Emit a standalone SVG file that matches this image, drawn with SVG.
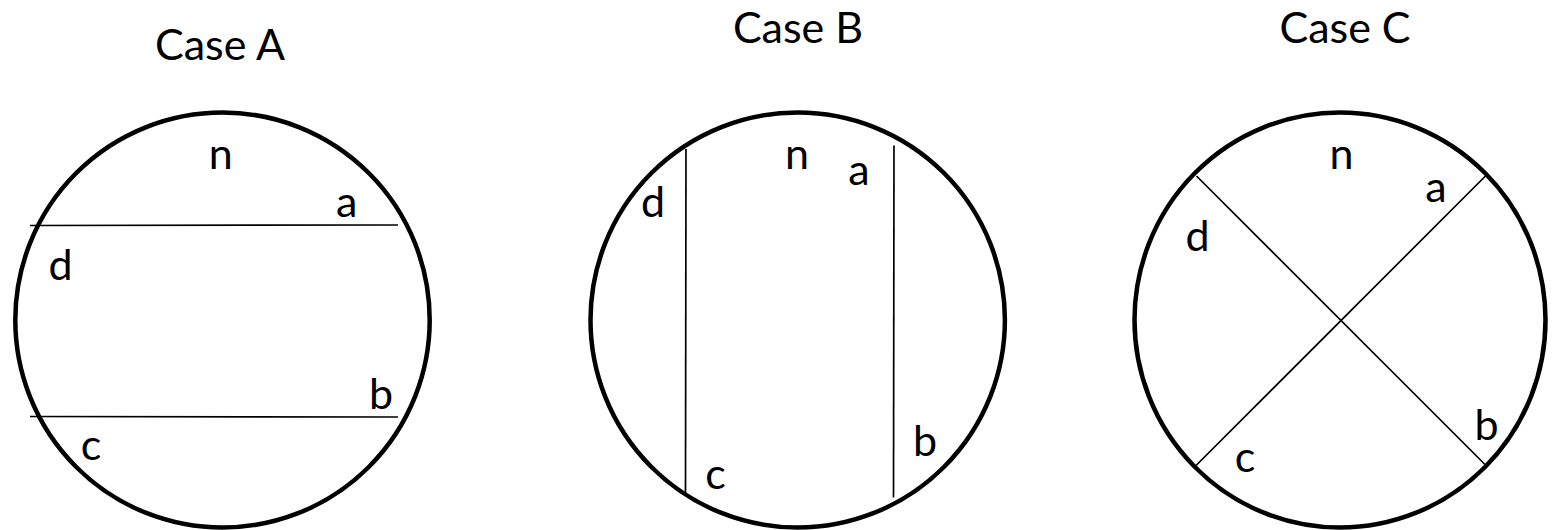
<svg xmlns="http://www.w3.org/2000/svg" width="1556" height="530" viewBox="0 0 1556 530">
<style>
.ring{fill:none;stroke:#000;stroke-width:4.5}
.chord{stroke:#000;stroke-width:1.7;fill:none}
text{font-family:Lato,"Open Sans","Liberation Sans",sans-serif;font-size:43px;fill:#000;text-anchor:middle}
</style>
<rect width="1556" height="530" fill="#fff"/>
<g id="caseA">
<text x="220" y="60">Case A</text>
<ellipse class="ring" cx="222.5" cy="320" rx="207.2" ry="207.5"/>
<text x="220.7" y="169">n</text>
<text x="346.7" y="216.5">a</text>
<text x="60.5" y="280">d</text>
<text x="381" y="408.5">b</text>
<text x="91" y="460">c</text>
</g>
<g id="caseB">
<text x="798" y="43">Case B</text>
<ellipse class="ring" cx="797.7" cy="320" rx="207.2" ry="207.5"/>
<text x="797" y="169">n</text>
<text x="859" y="185">a</text>
<text x="653" y="216.5">d</text>
<text x="715.5" y="489">c</text>
<text x="925" y="456">b</text>
</g>
<g id="caseC">
<text x="1345" y="43">Case C</text>
<ellipse class="ring" cx="1340" cy="320" rx="205.5" ry="207.5"/>
<text x="1341.5" y="169">n</text>
<text x="1436" y="202">a</text>
<text x="1197.5" y="251">d</text>
<text x="1486.5" y="440">b</text>
<text x="1245" y="472">c</text>
</g>
<g id="connectors">
<line class="chord" x1="30" y1="225.5" x2="398" y2="225"/>
<line class="chord" x1="30" y1="416.5" x2="398" y2="417"/>
<line class="chord" x1="686" y1="149" x2="685.5" y2="494"/>
<line class="chord" x1="894" y1="145.5" x2="893.5" y2="497.5"/>
<line class="chord" x1="1196.5" y1="176" x2="1486.5" y2="466"/>
<line class="chord" x1="1486" y1="175.5" x2="1196" y2="465.5"/>
</g>
</svg>
